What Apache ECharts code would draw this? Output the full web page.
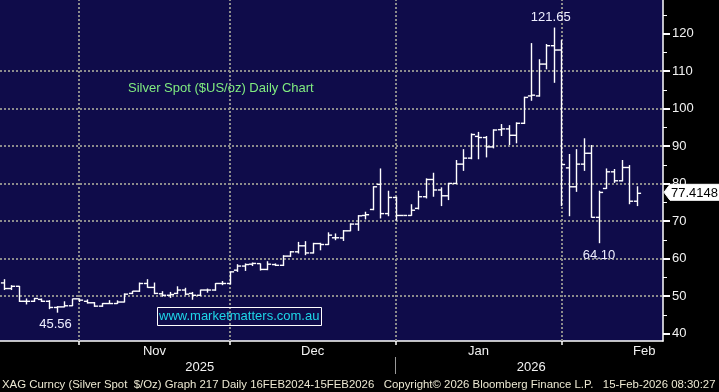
<!DOCTYPE html>
<html><head><meta charset="utf-8">
<script src="https://cdn.jsdelivr.net/npm/echarts@6/dist/echarts.min.js"></script>
<style>html,body{margin:0;padding:0;background:#000;}#c{width:719px;height:392px;}</style>
</head><body><div id="c"></div>
<script>
// ---- data ----
const dates = [
 '2025-10-17','2025-10-20','2025-10-21','2025-10-22','2025-10-23','2025-10-24','2025-10-27','2025-10-28','2025-10-29','2025-10-30','2025-10-31',
 '2025-11-03','2025-11-04','2025-11-05','2025-11-06','2025-11-07','2025-11-10','2025-11-11','2025-11-12','2025-11-13','2025-11-14',
 '2025-11-17','2025-11-18','2025-11-19','2025-11-20','2025-11-21','2025-11-24','2025-11-25','2025-11-26','2025-11-27','2025-11-28',
 '2025-12-01','2025-12-02','2025-12-03','2025-12-04','2025-12-05','2025-12-08','2025-12-09','2025-12-10','2025-12-11','2025-12-12',
 '2025-12-15','2025-12-16','2025-12-17','2025-12-18','2025-12-19','2025-12-22','2025-12-23','2025-12-24','2025-12-26','2025-12-29','2025-12-30','2025-12-31',
 '2026-01-01','2026-01-02','2026-01-05','2026-01-06','2026-01-07','2026-01-08','2026-01-09','2026-01-12','2026-01-13','2026-01-14','2026-01-15','2026-01-16',
 '2026-01-19','2026-01-20','2026-01-21','2026-01-22','2026-01-23','2026-01-26','2026-01-27','2026-01-28','2026-01-29','2026-01-30',
 '2026-02-02','2026-02-03','2026-02-04','2026-02-05','2026-02-06','2026-02-09','2026-02-10','2026-02-11','2026-02-12','2026-02-13',
 '2026-02-16','2026-02-17','2026-02-18'
];
const open  = [53.5,52.0,52.6,48.6,48.6,49.1,48.6,46.95,47.1,47.4,49.25,
 48.6,48.2,47.3,48.0,48.0,48.4,50.7,51.3,53.35,52.3,
 50.6,50.2,50.7,51.6,50.7,50.2,51.6,51.6,53.35,53.35,
 56.9,58.0,58.5,58.65,57.1,58.4,58.2,60.65,61.8,63.4,
 61.5,64.0,63.75,65.55,65.5,67.4,69.2,71.5,73.1,79.8,72.0,76.3,
 71.5,71.5,73.4,76.5,81.1,78.3,76.75,80.05,85.2,86.8,92.6,92.3,
 89.8,94.4,94.6,92.9,96.1,103.4,103.4,111.9,116.8,115.65,
 84.2,79.15,85.2,88.1,71.0,78.7,83.15,80.75,84.3,75.3];
const high  = [54.5,52.9,52.7,49.35,49.5,49.35,48.9,47.3,48.6,49.3,49.35,
 49.1,48.4,48.15,48.9,48.85,50.7,51.35,53.6,54.5,53.6,
 51.3,51.1,52.6,52.2,51.1,51.7,52.0,53.45,54.0,56.55,
 58.5,58.7,58.95,58.7,59.3,58.7,60.9,62.0,64.45,64.65,
 64.2,64.2,67.0,66.7,67.6,69.4,71.6,72.5,79.3,84.05,78.1,76.5,
 71.5,74.5,78.1,81.4,82.9,79.0,80.2,86.3,89.2,93.4,93.8,92.7,
 94.5,95.9,95.6,96.35,103.2,117.5,113.2,117.25,121.65,118.3,
 87.9,89.2,92.1,90.3,78.1,84.05,83.9,86.3,84.95,79.3];
const low   = [51.6,51.6,48.4,47.75,48.4,48.4,46.5,45.56,47.0,47.3,48.4,
 48.0,47.1,47.1,47.9,47.9,48.3,50.5,51.1,52.2,50.5,
 49.8,49.5,50.5,50.2,49.0,50.0,50.9,51.4,52.9,53.1,
 56.45,56.7,58.0,56.8,56.9,58.0,58.0,60.45,61.35,60.9,
 61.35,62.2,63.6,64.9,64.7,67.3,67.4,70.45,72.9,70.7,71.3,70.1,
 71.5,71.4,73.1,76.05,76.5,74.0,75.6,79.9,83.4,86.5,86.5,87.0,
 89.4,92.7,90.3,90.75,95.9,102.1,103.2,110.5,106.9,74.0,
 71.3,77.8,83.4,70.9,64.10,78.6,80.2,80.6,74.5,74.0];
const close = [52.0,52.6,48.6,48.6,49.35,48.6,46.95,47.1,47.4,49.25,48.9,
 48.2,47.3,48.0,48.0,48.4,50.5,51.3,53.35,52.3,50.7,
 50.2,50.4,51.6,50.5,50.2,51.6,51.6,53.35,53.35,56.45,
 58.0,58.4,58.7,57.1,58.5,58.2,60.65,61.8,63.4,61.5,
 64.0,63.75,66.25,65.55,67.4,69.2,71.4,71.7,79.15,72.0,76.3,71.5,
 71.5,72.9,76.5,81.1,78.3,76.75,80.05,85.2,86.8,93.1,92.3,89.8,
 94.3,94.6,92.9,96.1,103.0,103.6,111.9,116.8,115.65,85.1,
 79.15,85.2,88.1,71.0,77.65,83.15,80.75,84.3,75.3,77.4148];
const yMajorTicks = [40,50,60,70,80,90,100,110,120];
const yMinorTicks = [45,55,65,75,85,95,105,115,125];
const monthGridIdx = [10,30,52,74];
const monthLabelIdx = [20,41,63,85];
const monthLabelText = ['Nov','Dec','Jan','Feb'];
const yearLabelIdx = [26,70];
const yearLabelText = ['2025','2026'];
const yearSepIdx = [52];
const annotIdx = [73,79,7];   // high, low, low
const titleText = 'Silver Spot ($US/oz) Daily Chart';
const siteText = 'www.marketmatters.com.au';
const footerText = 'XAG Curncy (Silver Spot  $/Oz) Graph 217 Daily 16FEB2024-15FEB2026   Copyright\u00A9 2026 Bloomberg Finance L.P.   15-Feb-2026 08:30:27';

// ---- chart ----
const FONT = '"Liberation Sans", Arial, sans-serif';
const NAVY = '#0f0c4a';
const GRIDC = '#8c8c8c';
const chart = echarts.init(document.getElementById('c'), null, {renderer:'canvas', width:719, height:392});
const ohlc = open.map((o,i)=>[i,o,close[i],low[i],high[i]]);
const lastIdx = open.length-1;

function renderItem(params, api){
  const i = api.value(0);
  const xc = Math.round(api.coord([i, api.value(1)])[0]) + 0.5;
  const yO = api.coord([i, api.value(1)])[1];
  const yC = api.coord([i, api.value(2)])[1];
  const yL = api.coord([i, api.value(3)])[1];
  const yH = api.coord([i, api.value(4)])[1];
  const t = 3.6;
  const st = {stroke:'#ffffff', lineWidth:1.4};
  const ch = [
    {type:'line', shape:{x1:xc,y1:yH,x2:xc,y2:yL}, style:st},
    {type:'line', shape:{x1:xc-t,y1:yO,x2:xc,y2:yO}, style:st},
    {type:'line', shape:{x1:xc,y1:yC,x2:xc+t,y2:yC}, style:st}
  ];
  if (params.dataIndex === lastIdx){
    const cs = params.coordSys;
    const rx = cs.x + cs.width;
    const yc = yC - 1;
    ch.push({type:'polygon', z2:20, shape:{points:[[rx+1,yc],[rx+7,yc-8],[rx+57,yc-8],[rx+57,yc+8],[rx+7,yc+8]]},
      style:{fill:'#ffffff', stroke:'#ffffff', lineWidth:1}});
    ch.push({type:'text', z2:21, style:{text:close[i].toFixed(4), x:rx+8, y:yc+1, verticalAlign:'middle', align:'left',
      fill:'#000000', font:'13px '+FONT}});
  }
  return {type:'group', children:ch};
}

const lblStyle = {color:'#f2f2f2', fontSize:13, fontFamily:FONT};

chart.setOption({
  animation:false,
  backgroundColor:'#000000',
  title:[
    {text:titleText, left:128, top:82, padding:0, textStyle:{color:'#80ec80', fontSize:13, fontWeight:'normal', fontFamily:FONT}},
    {text:siteText, left:157, top:307, padding:[2,2,2,2], borderColor:'#ffffff', borderWidth:1,
      textStyle:{color:'#1ed6e8', fontSize:13, fontWeight:'normal', fontFamily:FONT, lineHeight:15}},
    {text:footerText, left:2, top:379, padding:0, textStyle:{color:'#ece8d2', fontSize:11.4, fontWeight:'normal', fontFamily:FONT}}
  ],
  grid:{left:-3.5, right:56, top:0, bottom:51, show:true, backgroundColor:NAVY, borderWidth:0},
  xAxis:[
    {type:'category', data:dates, boundaryGap:true,
      axisLine:{lineStyle:{color:'#ffffff', width:1.5}},
      axisTick:{show:true, alignWithLabel:true, length:4, interval:(i)=>monthGridIdx.includes(i), lineStyle:{color:'#ffffff', width:1.5}},
      axisLabel:Object.assign({interval:(i)=>monthLabelIdx.includes(i), margin:4,
        formatter:(v,i)=>monthLabelText[monthLabelIdx.indexOf(i)] || ''}, lblStyle),
      splitLine:{show:false}},
    {type:'category', data:dates, boundaryGap:true, position:'bottom', offset:16,
      axisLine:{show:false},
      axisTick:{show:true, alignWithLabel:true, length:17, interval:(i)=>yearSepIdx.includes(i), lineStyle:{color:'#9a9a9a', width:1}},
      axisLabel:Object.assign({interval:(i)=>yearLabelIdx.includes(i), margin:4,
        formatter:(v,i)=>yearLabelText[yearLabelIdx.indexOf(i)] || ''}, lblStyle),
      splitLine:{show:false}}
  ],
  yAxis:[
    {type:'value', position:'right', min:38, max:129, splitNumber:9, offset:0,
      axisLine:{show:true, lineStyle:{color:'#ffffff', width:1.5}},
      axisTick:{show:true, length:7, customValues:yMajorTicks, lineStyle:{color:'#ffffff', width:2}},
      axisLabel:Object.assign({customValues:yMajorTicks, margin:9}, lblStyle),
      splitLine:{show:true, showMinLine:false, showMaxLine:false, lineStyle:{color:GRIDC, type:[2,2], width:2}}},
    {type:'value', position:'right', min:38, max:129, splitNumber:9, offset:0,
      axisLine:{show:false}, axisLabel:{show:false}, splitLine:{show:false},
      axisTick:{show:true, length:4, customValues:yMinorTicks, lineStyle:{color:'#ffffff', width:1}}}
  ],
  series:[
    {type:'line', xAxisIndex:0, yAxisIndex:0, data:dates.map(()=>'-'), silent:true, symbol:'none',
      markLine:{silent:true, symbol:['none','none'], label:{show:false},
        lineStyle:{color:GRIDC, type:[2,2], width:2},
        data:monthGridIdx.map(i=>({xAxis:i}))},
      markPoint:{silent:true, symbol:'rect', symbolSize:1, itemStyle:{color:'rgba(0,0,0,0)'},
        data:[
          {coord:[annotIdx[0], high[annotIdx[0]]], label:{show:true, position:'top', distance:3, offset:[-3,0], formatter:high[annotIdx[0]].toFixed(2), color:'#eeeeff', fontSize:13, fontFamily:FONT}},
          {coord:[annotIdx[1], low[annotIdx[1]]], label:{show:true, position:'bottom', distance:5, formatter:low[annotIdx[1]].toFixed(2), color:'#eeeeff', fontSize:13, fontFamily:FONT}},
          {coord:[annotIdx[2], low[annotIdx[2]]], label:{show:true, position:'bottom', distance:5, offset:[-1,0], formatter:low[annotIdx[2]].toFixed(2), color:'#eeeeff', fontSize:13, fontFamily:FONT}}
        ]}},
    {type:'custom', xAxisIndex:0, yAxisIndex:0, data:ohlc, renderItem:renderItem, clip:false, z:5,
      encode:{x:0, y:[1,2,3,4]}}
  ]
});
</script></body></html>
